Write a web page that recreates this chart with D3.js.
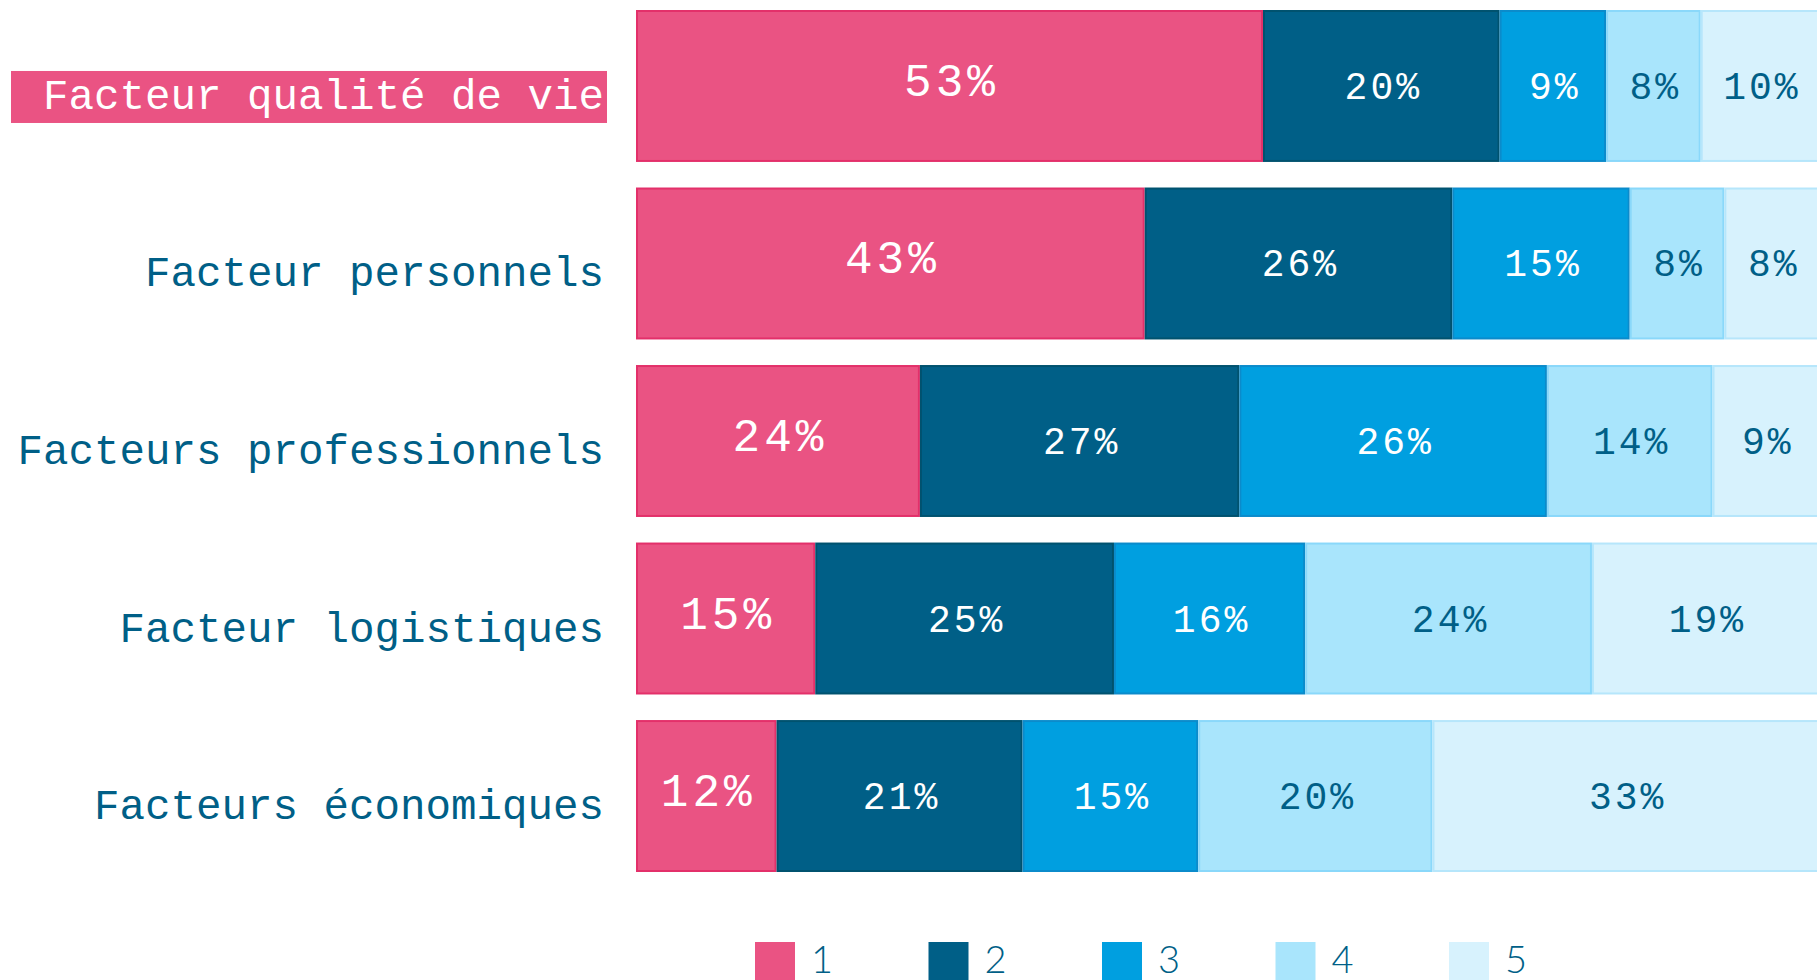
<!DOCTYPE html>
<html>
<head>
<meta charset="utf-8">
<script src="https://cdn.jsdelivr.net/npm/d3@7"></script>
<style>
  body { margin: 0; background: #fff; }
  svg { display: block; }
</style>
</head>
<body>
<div id="chart"></div>
<script>
// categories (top to bottom)
const categories = [
    "Facteur qualité de vie",
    "Facteur personnels",
    "Facteurs professionnels",
    "Facteur logistiques",
    "Facteurs économiques"
];
// answer levels
const levels = ["1", "2", "3", "4", "5"];

// share of each level, per category (%)
const level1 = [53, 43, 24, 15, 12];
const level2 = [20, 26, 27, 25, 21];
const level3 = [9, 15, 26, 16, 15];
const level4 = [8, 8, 14, 24, 20];
const level5 = [10, 8, 9, 19, 33];

const highlighted = "Facteur qualité de vie";

const fill = ["#ea5383", "#005f87", "#009fe0", "#a9e5fc", "#d7f2fd"];
const edge = ["#e3306a", "#00526f", "#0b8bcb", "#8ad8fa", "#b6e6fb"];
const ink = "#005f87";

const width = 1817, height = 980;

const rows = categories.map((c, i) => ({
    cat: c,
    "1": level1[i], "2": level2[i], "3": level3[i], "4": level4[i], "5": level5[i]
}));

const series = d3.stack()
    .keys(levels)
    .offset(d3.stackOffsetExpand)(rows);

const svg = d3.select("#chart").append("svg")
    .attr("width", width)
    .attr("height", height);

const x = d3.scaleLinear().domain([0, 1]).range([636, 1819]);
const y = d3.scaleBand().domain(categories).range([10, 872]).paddingInner(0.144);

const color = d3.scaleOrdinal().domain(levels).range(fill);
const stroke = d3.scaleOrdinal().domain(levels).range(edge);

const layer = svg.selectAll("g.layer")
    .data(series)
    .join("g")
    .attr("class", "layer");

layer.selectAll("rect")
    .data(s => s.map(d => Object.assign(d, { key: s.key })))
    .join("rect")
    .attr("x", d => x(d[0]) + 1)
    .attr("y", d => y(d.data.cat) + 1)
    .attr("width", d => x(d[1]) - x(d[0]) - 2)
    .attr("height", y.bandwidth() - 2)
    .attr("fill", d => color(d.key))
    .attr("stroke", d => stroke(d.key))
    .attr("stroke-width", 2);

// values inside segments
layer.selectAll("text")
    .data(s => s)
    .join("text")
    .attr("x", d => (x(d[0]) + x(d[1])) / 2 + 2)
    .attr("y", d => {
        const mid = y(d.data.cat) + y.bandwidth() / 2;
        return d.key === "1" ? mid + 10 : mid + 13;
    })
    .attr("text-anchor", "middle")
    .attr("font-family", "'Liberation Mono', 'Courier New', monospace")
    .attr("font-weight", 300)
    .attr("font-size", d => d.key === "1" ? 46 : 38)
    .attr("letter-spacing", d => d.key === "1" ? 4 : 3)
    .attr("fill", d => (d.key === "4" || d.key === "5") ? ink : "#fff")
    .text(d => d.data[d.key] + "%");

// category labels
const labels = svg.append("g");

labels.selectAll("text")
    .data(categories)
    .join("text")
    .attr("x", 604)
    .attr("y", d => y(d) + y.bandwidth() / 2 + 23)
    .attr("text-anchor", "end")
    .attr("font-family", "'Liberation Mono', 'Courier New', monospace")
    .attr("font-size", 42.5)
    .attr("fill", d => d === highlighted ? "#fff" : ink)
    .text(d => d);

// highlight box behind the first label
const hl = labels.selectAll("text").filter(d => d === highlighted);
const bb = hl.node().getBBox();
labels.insert("rect", "text")
    .attr("x", 11)
    .attr("y", y(highlighted) + y.bandwidth() / 2 - 15)
    .attr("width", bb.x + bb.width + 3 - 11)
    .attr("height", 52)
    .attr("fill", fill[0]);

// legend
const lx = d3.scalePoint().domain(levels).range([755, 1449]);
const legend = svg.append("g")
    .selectAll("g")
    .data(levels)
    .join("g")
    .attr("transform", d => `translate(${lx(d)},942)`);

legend.append("rect")
    .attr("width", 40)
    .attr("height", 40)
    .attr("fill", d => color(d));

legend.append("text")
    .attr("x", 56)
    .attr("y", 31)
    .attr("font-family", "Lato, 'Open Sans', sans-serif")
    .attr("font-weight", 300)
    .attr("font-size", 38)
    .attr("fill", ink)
    .text(d => d);
</script>
</body>
</html>
